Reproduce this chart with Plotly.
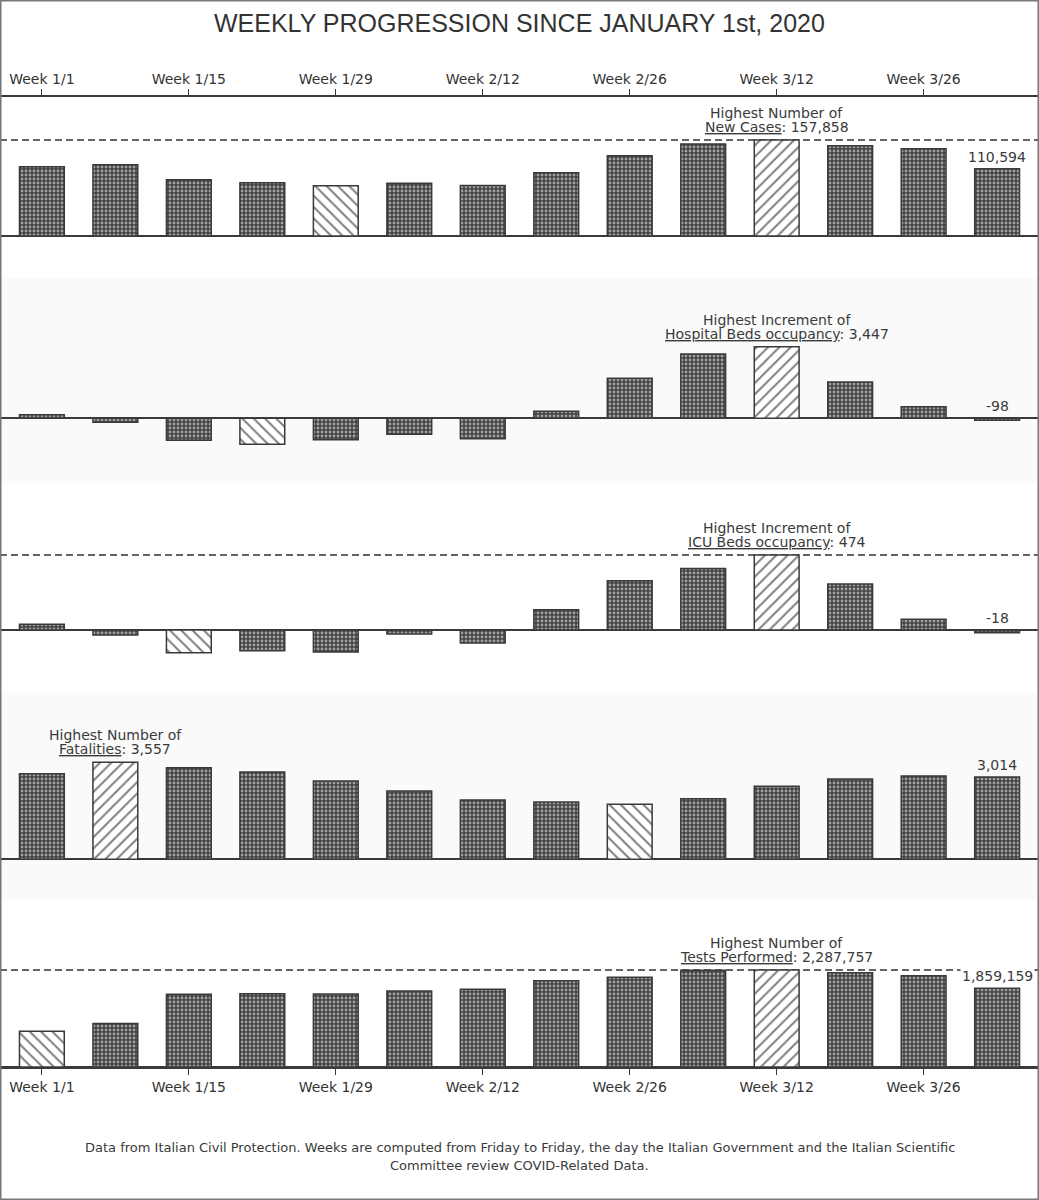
import plotly.graph_objects as go
from plotly.subplots import make_subplots

# weekly data
weeks = list(range(14))
tick_idx = [0, 2, 4, 6, 8, 10, 12]
tick_labels = ['Week 1/1', 'Week 1/15', 'Week 1/29', 'Week 2/12',
               'Week 2/26', 'Week 3/12', 'Week 3/26']

new_cases = [113960, 117250, 92580, 87650, 82720, 86660, 83200,
             104090, 132050, 151280, 157858, 148490, 143560, 110594]
hospital_beds = [173, -193, -1059, -1252, -1030, -770, -982,
                 337, 1926, 3096, 3447, 1748, 559, -98]
icu_beds = [36, -32, -143, -131, -139, -25, -82,
            128, 312, 388, 474, 291, 68, -18]
fatalities = [3139, 3557, 3359, 3201, 2871, 2505, 2175,
              2101, 2017, 2222, 2677, 2945, 3055, 3014]
tests = [844600, 1026800, 1712900, 1727000, 1720000, 1791000, 1831000,
         2034600, 2115000, 2280000, 2287757, 2224000, 2153000, 1859159]

headers = ['Highest Number of', 'Highest Increment of', 'Highest Increment of',
           'Highest Number of', 'Highest Number of']
metrics = ['New Cases', 'Hospital Beds occupancy', 'ICU Beds occupancy',
           'Fatalities', 'Tests Performed']
series = [new_cases, hospital_beds, icu_beds, fatalities, tests]

W, H = 1039, 1200
FONT = 'DejaVu Sans'
INK = '#3a3a3a'
BAND = '#fafafa'

# panel layout in pixels: top, bottom, baseline, max line
panels = [(97, 278, 236, 140),
          (278, 483, 418.3, 346.7),
          (483, 693, 630, 555),
          (693, 900, 859.3, 762.3),
          (900, 1067, 1067, 970)]
banded = [False, True, False, True, False]


def py(px):
    return 1 - px / H


fig = make_subplots(rows=5, cols=1, shared_xaxes=False)

for i, vals in enumerate(series):
    r = i + 1
    top, bot, base, mline = panels[i]
    vmax = max(vals)
    imax = vals.index(vmax)
    imin = vals.index(min(vals))
    # max bar -> '/', min bar -> '\', others dark mesh (white dots on dark)
    shapes = ['/' if k == imax else '\\' if k == imin else '.' for k in weeks]
    sizes = [8 if s != '.' else 4 for s in shapes]
    solid = [0.25 if s != '.' else 0.4 for s in shapes]
    fg = ['#000' if s != '.' else 'white' for s in shapes]
    bg = ['white' if s != '.' else '#424242' for s in shapes]

    fig.add_trace(go.Bar(
        x=weeks, y=vals, width=0.61, showlegend=False,
        marker=dict(color='white', line=dict(color=INK, width=1.5),
                    pattern=dict(shape=shapes, size=sizes, solidity=solid,
                                 fgcolor=fg, bgcolor=bg)),
        hovertemplate='%{y:,}<extra></extra>'
    ), row=r, col=1)

    s = vmax / (base - mline)
    ymax = vmax + (mline - top) * s
    ymin = -(bot - base) * s
    fig.update_yaxes(row=r, col=1, domain=[py(bot), py(top)], range=[ymin, ymax],
                     showticklabels=False, showgrid=False, ticks='',
                     zeroline=True, zerolinecolor=INK, zerolinewidth=1.5)
    fig.update_xaxes(row=r, col=1, range=[-0.57, 13.57], showgrid=False,
                     zeroline=False, showticklabels=False, ticks='')

    xr = 'x' if r == 1 else f'x{r}'
    yr = 'y' if r == 1 else f'y{r}'

    # dashed max line
    fig.add_shape(type='line', xref=f'{xr} domain', yref=yr, x0=0, x1=1,
                  y0=vmax, y1=vmax, layer='below',
                  line=dict(color='#333', width=1.3, dash='7px,4px'))

    # max annotation
    fig.add_annotation(x=imax, y=vmax, xref=xr, yref=yr, text=headers[i],
                       showarrow=False, yanchor='middle', yshift=27,
                       font=dict(family=FONT, size=14, color=INK))
    fig.add_annotation(x=imax, y=vmax, xref=xr, yref=yr,
                       text=f'<u>{metrics[i]}</u>: {vmax:,}',
                       showarrow=False, yanchor='middle', yshift=13,
                       font=dict(family=FONT, size=14, color=INK))

    # last value label
    last = vals[-1]
    fig.add_annotation(x=13, y=max(last, 0), xref=xr, yref=yr, text=f'{last:,}',
                       showarrow=False, yanchor='middle', yshift=12,
                       bgcolor=BAND if banded[i] else 'white', borderpad=1,
                       font=dict(family=FONT, size=14, color=INK))

    if banded[i]:
        fig.add_shape(type='rect', xref='paper', yref='paper', x0=0, x1=1,
                      y0=py(bot), y1=py(top), layer='below',
                      fillcolor=BAND, line=dict(width=0))

axis_style = dict(showline=True, linecolor=INK, linewidth=1.5, ticks='outside',
                  ticklen=6, tickcolor=INK, tickwidth=1.2, showticklabels=True,
                  tickvals=tick_idx, ticktext=tick_labels,
                  tickfont=dict(family=FONT, size=14, color='#333'))
fig.update_xaxes(row=1, col=1, side='top', **axis_style)
fig.update_xaxes(row=5, col=1, side='bottom', **axis_style)

# title and footnote
fig.add_annotation(x=0.5, y=py(23), xref='paper', yref='paper', showarrow=False,
                   text='WEEKLY PROGRESSION SINCE JANUARY 1st, 2020',
                   yanchor='middle', font=dict(family='Liberation Sans', size=25, color='#333'))
fig.add_annotation(x=0.5, y=py(1147), xref='paper', yref='paper', showarrow=False,
                   text='Data from Italian Civil Protection. Weeks are computed from Friday to Friday, '
                        'the day the Italian Government and the Italian Scientific',
                   yanchor='middle', font=dict(family=FONT, size=13, color=INK))
fig.add_annotation(x=0.5, y=py(1165), xref='paper', yref='paper', showarrow=False,
                   text='Committee review COVID-Related Data.',
                   yanchor='middle', font=dict(family=FONT, size=13, color=INK))

# outer frame
fig.add_shape(type='rect', xref='paper', yref='paper', x0=0, x1=1, y0=0, y1=1,
              line=dict(color='#777', width=3))

fig.update_layout(width=W, height=H, margin=dict(l=0, r=0, t=0, b=0),
                  paper_bgcolor='white', plot_bgcolor='rgba(0,0,0,0)',
                  bargap=0.39, showlegend=False)

fig.write_html('out.html', config={'displayModeBar': False},
               post_script="document.body.style.margin='0';")
